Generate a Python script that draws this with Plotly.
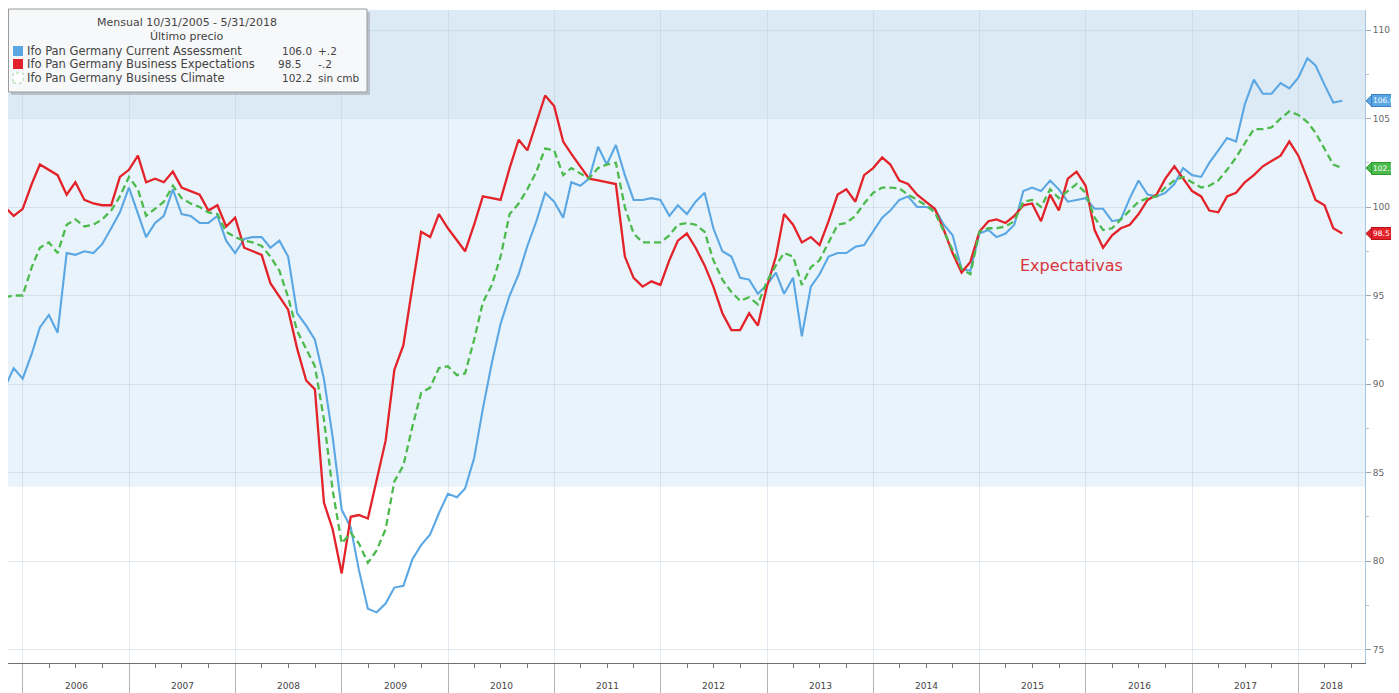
import pandas as pd
import plotly.graph_objects as go

# ---------------- data ----------------
dates = list(pd.date_range('2005-10-01', periods=152, freq='MS') + pd.offsets.MonthEnd(1))

current = [
    89.8, 90.9, 90.3, 91.7, 93.2, 93.9, 92.9, 97.4, 97.3, 97.5,
    97.4, 97.9, 98.8, 99.7, 101.1, 99.6, 98.3, 99.1, 99.5, 101.0,
    99.6, 99.5, 99.1, 99.1, 99.5, 98.1, 97.4, 98.2, 98.3, 98.3,
    97.7, 98.1, 97.2, 94.0, 93.3, 92.5, 90.3, 87.0, 82.9, 81.9,
    79.5, 77.3, 77.1, 77.6, 78.5, 78.6, 80.1, 80.9, 81.5, 82.7,
    83.8, 83.6, 84.1, 85.8, 88.6, 91.2, 93.4, 95.0, 96.2, 97.8,
    99.2, 100.8, 100.3, 99.4, 101.4, 101.2, 101.6, 103.4, 102.4, 103.5,
    101.8, 100.4, 100.4, 100.5, 100.4, 99.5, 100.1, 99.6, 100.3, 100.8,
    98.8, 97.5, 97.2, 96.0, 95.9, 95.1, 95.6, 96.3, 95.1, 96.0,
    92.7, 95.5, 96.2, 97.2, 97.4, 97.4, 97.75, 97.85, 98.6, 99.4,
    99.8, 100.4, 100.6, 100.0, 100.0, 99.9, 99.0, 98.4, 96.5, 96.4,
    98.5, 98.7, 98.3, 98.5, 99.0, 100.9, 101.1, 100.9, 101.5, 101.0,
    100.3, 100.4, 100.5, 99.9, 99.9, 99.2, 99.3, 100.5, 101.5, 100.7,
    100.6, 100.8, 101.3, 102.2, 101.8, 101.7, 102.5, 103.2, 103.9, 103.7,
    105.8, 107.2, 106.4, 106.4, 107.0, 106.7, 107.3, 108.4, 108.0, 106.9,
    105.9, 106.0,
]

expectations = [
    100.0, 99.5, 99.9, 101.3, 102.4, 102.1, 101.8, 100.7, 101.4, 100.4,
    100.2, 100.1, 100.1, 101.7, 102.1, 102.9, 101.4, 101.6, 101.4, 102.0,
    101.1, 100.9, 100.7, 99.8, 100.1, 98.9, 99.4, 97.7, 97.5, 97.3,
    95.7, 94.9, 94.2, 92.0, 90.2, 89.7, 83.3, 81.8, 79.3, 82.5,
    82.6, 82.4, 84.6, 86.8, 90.8, 92.2, 95.5, 98.6, 98.3, 99.6,
    98.8, 98.1, 97.5, 99.0, 100.6, 100.5, 100.4, 102.2, 103.8, 103.2,
    104.8, 106.3, 105.7, 103.7, 103.0, 102.3, 101.6, 101.5, 101.4, 101.3,
    97.2, 96.0, 95.5, 95.8, 95.6, 97.0, 98.1, 98.5, 97.7, 96.7,
    95.5, 94.0, 93.05, 93.05, 94.0, 93.3, 95.5, 97.2, 99.6, 99.0,
    98.0, 98.3, 97.85, 99.2, 100.7, 101.0, 100.3, 101.8, 102.2, 102.8,
    102.4, 101.5, 101.3, 100.7, 100.3, 99.9, 98.7, 97.4, 96.3, 96.9,
    98.6, 99.2, 99.3, 99.1, 99.5, 100.1, 100.2, 99.2, 100.7, 99.8,
    101.6, 102.0, 101.2, 98.7, 97.7, 98.4, 98.8, 99.0, 99.6, 100.4,
    100.7, 101.6, 102.3, 101.6, 100.9, 100.6, 99.8, 99.7, 100.6, 100.8,
    101.4, 101.8, 102.3, 102.6, 102.9, 103.7, 102.9, 101.6, 100.4, 100.1,
    98.8, 98.5,
]

climate = [
    94.9, 95.0, 95.0, 96.6, 97.7, 98.0, 97.4, 99.0, 99.3, 98.9,
    99.0, 99.3, 99.8, 100.6, 101.7, 101.0, 99.5, 99.9, 100.3, 101.2,
    100.5, 100.2, 100.0, 99.7, 99.6, 98.6, 98.3, 98.1, 98.0, 97.8,
    97.2, 96.4, 94.9, 93.0, 92.0, 91.0, 88.0, 84.0, 81.0, 81.6,
    81.0, 79.9, 80.6, 81.8, 84.5, 85.4, 87.6, 89.5, 89.8, 90.9,
    91.0, 90.5, 90.6, 92.5, 94.6, 95.6, 97.2, 99.6, 100.2, 101.0,
    102.0, 103.3, 103.2, 101.8, 102.2, 101.9, 101.6, 102.2, 102.4, 102.5,
    100.0, 98.5, 98.0, 98.0, 98.0, 98.4, 99.0, 99.1, 99.0, 98.6,
    97.0, 95.9, 95.2, 94.7, 94.9, 94.5, 95.8, 96.7, 97.4, 97.2,
    95.6, 96.6, 97.0, 98.0, 99.0, 99.1, 99.5, 100.2, 100.8, 101.1,
    101.1, 101.05, 100.7, 100.4, 100.1, 99.7, 98.6, 97.6, 96.5, 96.2,
    98.6, 98.8, 98.8, 98.9, 99.2, 100.3, 100.4, 100.0, 101.0, 100.5,
    100.9, 101.3, 100.8, 99.4, 98.7, 98.8, 99.3, 99.8, 100.3, 100.5,
    100.6, 101.1, 101.5, 101.7, 101.4, 101.1, 101.2, 101.5, 102.1, 102.8,
    103.6, 104.4, 104.4, 104.5, 105.0, 105.4, 105.2, 104.8, 104.2, 103.3,
    102.4, 102.2,
]

series_names = [
    "Ifo Pan Germany Current Assessment",
    "Ifo Pan Germany Business Expectations",
    "Ifo Pan Germany Business Climate",
]
last_values = [106.0, 98.5, 102.2]
last_text = ["106.0", "98.5", "102.2"]
change_text = ["+.2", "-.2", "sin cmb"]
legend_title = ["Mensual 10/31/2005 - 5/31/2018", "Último precio"]
year_labels = [str(y) for y in range(2006, 2019)]
ytick_vals = [75, 80, 85, 90, 95, 100, 105, 110]
band_top = [105.0, 111.13]
band_mid = [84.2, 105.0]
annotation_text = "Expectativas"
annotation_pos = ["2015-11-12", 96.7]

# ---------------- style / geometry ----------------
# the page body adds an 8px offset; figure is sized so page coords match the reference
OFF = 8
W, H = 1399 - OFF, 693 - OFF
L, R, T, B = 0, 34, 2, 30
PW, PH = W - L - R, H - T - B
X_RANGE = ["2005-11-10 12:00", "2018-08-17"]
Y_RANGE = [74.24, 111.13]

BLUE = "#5aa7e4"
RED = "#e3222a"
GREEN = "#4dba4d"
colors = [BLUE, RED, GREEN]
dark = ["#3b7fc4", "#b5151b", "#2c9a2c"]
TXT = "#444"
FONT = "DejaVu Sans"


def px(x_page):
    return (x_page - OFF - L) / PW


def py(y_page):
    return 1 - (y_page - OFF - T) / PH


fig = go.Figure()

fig.add_trace(go.Scatter(x=dates, y=current, mode="lines", name=series_names[0],
                         line=dict(color=BLUE, width=2.1)))
fig.add_trace(go.Scatter(x=dates, y=expectations, mode="lines", name=series_names[1],
                         line=dict(color=RED, width=2.3)))
fig.add_trace(go.Scatter(x=dates, y=climate, mode="lines", name=series_names[2],
                         line=dict(color=GREEN, width=2.3, dash="7px,4px")))

shapes = []
# background bands
shapes.append(dict(type="rect", xref="paper", yref="y", x0=0, x1=1, y0=band_top[0], y1=band_top[1],
                   fillcolor="#dceaf6", line=dict(width=0), layer="below"))
shapes.append(dict(type="rect", xref="paper", yref="y", x0=0, x1=1, y0=band_mid[0], y1=band_mid[1],
                   fillcolor="#e8f3fb", line=dict(width=0), layer="below"))

# legend box (shadow + box)
shapes.append(dict(type="rect", xref="paper", yref="paper", x0=px(11), x1=px(370), y0=py(95), y1=py(12),
                   fillcolor="rgba(120,120,120,0.35)", line=dict(width=0)))
shapes.append(dict(type="rect", xref="paper", yref="paper", x0=px(8.5), x1=px(367), y0=py(92), y1=py(9),
                   fillcolor="#f7f8f9", line=dict(color="#9a9a9a", width=1)))

annotations = []
annotations.append(dict(xref="paper", yref="paper", x=px(187), y=py(23), text=legend_title[0],
                        showarrow=False, xanchor="center", yanchor="middle",
                        font=dict(family=FONT, size=11, color=TXT)))
annotations.append(dict(xref="paper", yref="paper", x=px(187), y=py(37), text=legend_title[1],
                        showarrow=False, xanchor="center", yanchor="middle",
                        font=dict(family=FONT, size=11, color=TXT)))
row_y = [51, 64, 78]
val_x = [280, 276, 280]
for k in range(3):
    yc = row_y[k]
    if k < 2:
        shapes.append(dict(type="rect", xref="paper", yref="paper", x0=px(13), x1=px(23),
                           y0=py(yc + 5), y1=py(yc - 5), fillcolor=colors[k], line=dict(width=0)))
    else:
        shapes.append(dict(type="rect", xref="paper", yref="paper", x0=px(13), x1=px(23),
                           y0=py(yc + 5), y1=py(yc - 5), fillcolor="white",
                           line=dict(color="#9fd89f", width=1, dash="dot")))
    annotations.append(dict(xref="paper", yref="paper", x=px(25), y=py(yc), text=series_names[k],
                            showarrow=False, xanchor="left", yanchor="middle",
                            font=dict(family=FONT, size=11.5, color=TXT)))
    annotations.append(dict(xref="paper", yref="paper", x=px(val_x[k]), y=py(yc), text=last_text[k],
                            showarrow=False, xanchor="left", yanchor="middle",
                            font=dict(family=FONT, size=10.5, color=TXT)))
    annotations.append(dict(xref="paper", yref="paper", x=px(316), y=py(yc), text=change_text[k],
                            showarrow=False, xanchor="left", yanchor="middle",
                            font=dict(family=FONT, size=10.5, color=TXT)))

# value tags on the right axis
for k in range(3):
    v = last_values[k]
    shapes.append(dict(type="path", xref="paper", yref="y",
                       path=f"M {px(1366)} {v} L {px(1372)} {v + 0.33} L {px(1372)} {v - 0.33} Z",
                       fillcolor=colors[k], line=dict(color=dark[k], width=1)))
    annotations.append(dict(xref="paper", yref="y", x=px(1371), y=v, text=last_text[k],
                            showarrow=False, xanchor="left", yanchor="middle",
                            bgcolor=colors[k], bordercolor=dark[k], borderwidth=1, borderpad=1,
                            font=dict(family=FONT, size=7.5, color="white")))

# year labels centred in each year (visible part)
end_ts = pd.Timestamp(X_RANGE[1])
for lab in year_labels:
    y0 = pd.Timestamp(f"{lab}-01-01")
    y1 = min(pd.Timestamp(f"{int(lab) + 1}-01-01"), end_ts)
    mid = y0 + (y1 - y0) / 2
    annotations.append(dict(xref="x", yref="paper", x=mid, y=0, yanchor="top", xanchor="center",
                            yshift=-16, text=lab, showarrow=False,
                            font=dict(family=FONT, size=9, color=TXT)))

annotations.append(dict(xref="x", yref="y", x=annotation_pos[0], y=annotation_pos[1], text=annotation_text,
                        showarrow=False, xanchor="center", yanchor="middle",
                        font=dict(family=FONT, size=16, color="#d8343c")))

fig.update_layout(
    width=W, height=H,
    margin=dict(l=L, r=R, t=T, b=B, autoexpand=False),
    paper_bgcolor="white", plot_bgcolor="white",
    showlegend=False,
    shapes=shapes, annotations=annotations,
    xaxis=dict(
        type="date", range=X_RANGE,
        tickvals=[f"{y}-01-01" for y in year_labels],
        showticklabels=False,
        ticks="outside", ticklen=30, tickcolor="#b5b5b5", tickwidth=1,
        showgrid=True, gridcolor="rgba(175,195,215,0.35)", gridwidth=1,
        showline=True, linecolor="#6e6e6e", linewidth=1,
        zeroline=False,
        minor=dict(tickmode="linear", tick0="2006-01-01", dtick="M3", ticks="outside",
                   ticklen=4, tickcolor="#777", showgrid=False),
    ),
    yaxis=dict(
        side="right", range=Y_RANGE,
        tickvals=ytick_vals,
        ticks="outside", ticklen=5, tickcolor="#9aa8b4",
        tickfont=dict(family=FONT, size=9, color="#666"),
        showgrid=True, gridcolor="rgba(175,195,215,0.35)", gridwidth=1,
        showline=True, linecolor="#a9c5dd", linewidth=1,
        zeroline=False,
        minor=dict(tickmode="linear", tick0=75, dtick=2.5, ticks="outside", ticklen=3,
                   tickcolor="#b8c4ce", showgrid=False),
    ),
)

fig.write_html("out.html")
